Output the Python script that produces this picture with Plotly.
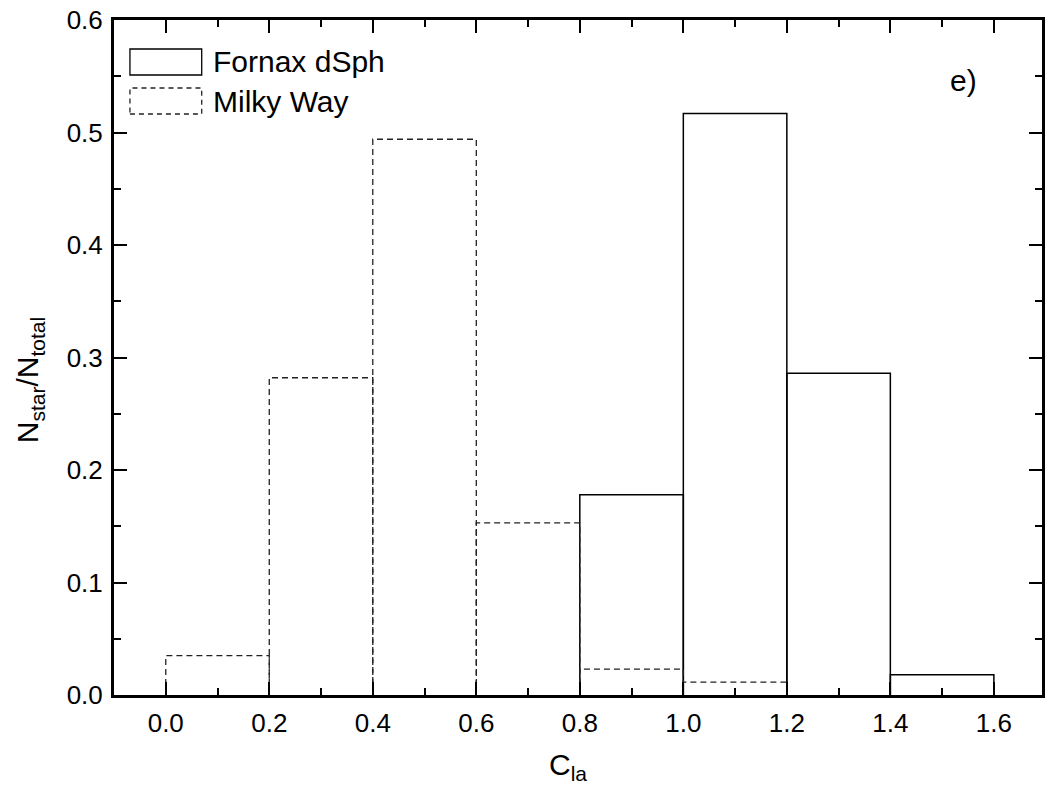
import plotly.graph_objects as go

# Data
bin_edges = [0.0, 0.2, 0.4, 0.6, 0.8, 1.0, 1.2, 1.4, 1.6]
fornax = [0.0, 0.0, 0.0, 0.0, 0.178, 0.517, 0.286, 0.018]
milky_way = [0.035, 0.282, 0.494, 0.153, 0.023, 0.0115, 0.0, 0.0]
x_ticks = [0.0, 0.2, 0.4, 0.6, 0.8, 1.0, 1.2, 1.4, 1.6]
y_ticks = [0.0, 0.1, 0.2, 0.3, 0.4, 0.5, 0.6]

FONT = "Liberation Sans, Arial, sans-serif"


def outline(values):
    xs, ys = [], []
    for i, v in enumerate(values):
        if v <= 0:
            continue
        l, r = bin_edges[i], bin_edges[i + 1]
        xs += [l, l, r, r, None]
        ys += [0, v, v, 0, None]
    return xs, ys


fig = go.Figure()
fx, fy = outline(fornax)
fig.add_trace(go.Scatter(x=fx, y=fy, mode="lines", name="Fornax dSph",
                         line=dict(color="black", width=1.5), showlegend=False,
                         connectgaps=False))
mx, my = outline(milky_way)
fig.add_trace(go.Scatter(x=mx, y=my, mode="lines", name="Milky Way",
                         line=dict(color="#222222", width=1.3, dash="6px,4px"),
                         showlegend=False, connectgaps=False))

# custom legend (box samples)
x0p, x1p = (130 - 114) / 931, (202 - 114) / 931
def ypaper(py):
    return (695 - py) / 675
def xpaper(px):
    return (px - 114) / 931

fig.add_shape(type="rect", xref="paper", yref="paper",
              x0=x0p, x1=x1p, y0=ypaper(75), y1=ypaper(49),
              line=dict(color="black", width=1.3))
fig.add_shape(type="rect", xref="paper", yref="paper",
              x0=x0p, x1=x1p, y0=ypaper(114), y1=ypaper(88),
              line=dict(color="#222222", width=1.3, dash="5px,4px"))
fig.add_annotation(xref="paper", yref="paper", x=xpaper(211), y=ypaper(62),
                   text="Fornax dSph", showarrow=False, xanchor="left", yanchor="middle",
                   font=dict(family=FONT, size=30, color="black"))
fig.add_annotation(xref="paper", yref="paper", x=xpaper(211), y=ypaper(101),
                   text="Milky Way", showarrow=False, xanchor="left", yanchor="middle",
                   font=dict(family=FONT, size=30, color="black"))
fig.add_annotation(xref="paper", yref="paper", x=xpaper(966), y=ypaper(80),
                   text="e)", showarrow=False, xanchor="center", yanchor="middle",
                   font=dict(family=FONT, size=30, color="black"))

# axis titles
fig.add_annotation(xref="paper", yref="paper", x=xpaper(569), y=ypaper(766),
                   text="C<sub>la</sub>", showarrow=False, xanchor="center", yanchor="middle",
                   font=dict(family=FONT, size=30, color="black"))
fig.add_annotation(xref="paper", yref="paper", x=xpaper(29), y=ypaper(380),
                   text="N<sub>star</sub>/N<sub>total</sub>", showarrow=False, textangle=-90,
                   xanchor="center", yanchor="middle",
                   font=dict(family=FONT, size=30, color="black"))

axis_common = dict(
    showgrid=False, zeroline=False, showline=True, linecolor="black", linewidth=3,
    mirror="ticks", ticks="inside", ticklen=13, tickwidth=2, tickcolor="black",
    tickfont=dict(family=FONT, size=26, color="black"), ticklabelstandoff=3,
)

fig.update_xaxes(
    range=[-0.1, 1.693], tickvals=x_ticks, ticktext=[f"{v:.1f}" for v in x_ticks],
    minor=dict(ticks="inside", ticklen=7, tickwidth=2, tickcolor="black", dtick=0.1, tick0=0.1),
    **axis_common,
)
fig.update_yaxes(
    range=[0, 0.6], tickvals=y_ticks, ticktext=[f"{v:.1f}" for v in y_ticks],
    minor=dict(ticks="inside", ticklen=7, tickwidth=2, tickcolor="black", dtick=0.05, tick0=0.05),
    **axis_common,
)

fig.update_layout(
    width=1049, height=791,
    margin=dict(l=114, r=4, t=20, b=96),
    paper_bgcolor="white", plot_bgcolor="white",
    showlegend=False,
)

fig.write_html("out.html")
